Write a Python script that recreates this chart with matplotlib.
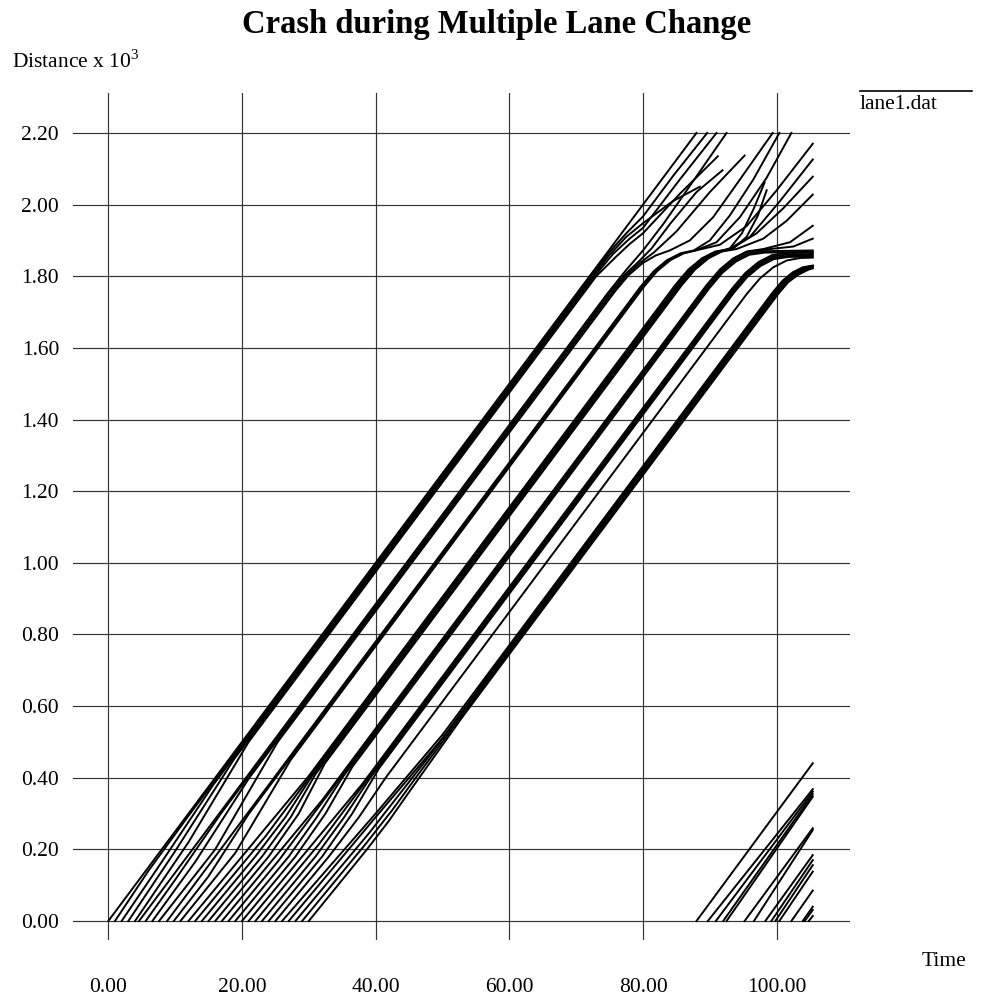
"""
Space-time diagram of vehicle trajectories in lane 1 (crash scenario).
"""

import matplotlib
matplotlib.use("Agg")
import matplotlib.pyplot as plt

plt.rcParams["font.family"] = ["Liberation Serif", "DejaVu Serif"]
plt.rcParams["mathtext.fontset"] = "custom"
plt.rcParams["mathtext.rm"] = "Liberation Serif"

TITLE = "Crash during Multiple Lane Change"
X_TICKS = [0, 20, 40, 60, 80, 100]
Y_TICKS = [0.0, 0.2, 0.4, 0.6, 0.8, 1.0, 1.2, 1.4, 1.6, 1.8, 2.0, 2.2]

# (time, distance/1000) waypoints per vehicle, grouped by platoon
platoon_1 = [
    [(0, 0), (88.0, 2.2)],
    [(1, 0), (6, 0.14), (12.25, 0.30), (72.25, 1.80), (75, 1.868), (77.5, 1.92), (80, 1.967), (84.5, 2.08), (89.6, 2.2)],
    [(2, 0), (8, 0.165), (15.7, 0.38), (72.5, 1.80), (75, 1.86), (77.5, 1.91), (80, 1.948), (84.5, 2.01), (88.5, 2.05)],
    [(3, 0), (10, 0.195), (18.75, 0.45), (72.75, 1.80), (75.5, 1.862), (78, 1.905), (80, 1.935), (85.5, 2.07), (91.0, 2.2)],
    [(4, 0), (12, 0.22), (21, 0.5), (73, 1.80), (76, 1.855), (78, 1.89), (80, 1.92), (85.5, 2.03), (91.2, 2.135)],
]
platoon_2 = [
    [(4.6, 0), (74.6, 1.75), (77.5, 1.818), (80, 1.872), (83, 1.945), (86, 2.025), (92.5, 2.2)],
    [(5.6, 0), (10, 0.115), (16.85, 0.3), (75.3, 1.76), (77.3, 1.805), (79.3, 1.84), (81.3, 1.878), (84, 1.945), (88, 2.035), (91.9, 2.096)],
    [(6.6, 0), (13, 0.165), (21.1, 0.4), (75.6, 1.76), (77.6, 1.805), (79.6, 1.838), (81.6, 1.866), (85, 1.925), (90, 2.035), (95.2, 2.137)],
    [(7.6, 0), (16, 0.2), (25.35, 0.5), (75.9, 1.76), (77.9, 1.804), (79.9, 1.836), (81.9, 1.858), (84, 1.872), (87, 1.9), (90.5, 1.965), (94.5, 2.07), (99.4, 2.2)],
]
platoon_3 = [
    [(8.8, 0), (79.6, 1.77), (81.6, 1.814), (83.6, 1.845), (85.6, 1.864), (87.6, 1.872), (90, 1.9), (93, 1.97), (96.5, 2.07), (100.4, 2.2)],
    [(9.8, 0), (15, 0.125), (21.05, 0.3), (79.85, 1.77), (81.85, 1.814), (83.85, 1.845), (85.85, 1.864), (87.85, 1.872), (91, 1.895), (94.5, 1.965), (98.5, 2.075), (102.2, 2.2)],
    [(10.8, 0), (19, 0.19), (27.3, 0.45), (80.1, 1.77), (82.1, 1.814), (84.1, 1.845), (86.1, 1.864), (88.1, 1.873), (91.5, 1.888), (95.5, 1.94), (100, 2.04), (105.4, 2.17)],
]
platoon_4 = [
    [(12, 0), (30, 0.405), (84.8, 1.775), (86.8, 1.819), (88.8, 1.85), (90.8, 1.869), (92.8, 1.875), (96, 1.91), (100.5, 2.01), (105.4, 2.126)],
    [(13, 0), (23.5, 0.236), (85.05, 1.775), (87.05, 1.819), (89.05, 1.85), (91.05, 1.869), (93.05, 1.875), (97, 1.92), (101, 1.99), (105.4, 2.078)],
    [(14, 0), (22, 0.18), (26.5, 0.29), (30.3, 0.4), (85.3, 1.775), (87.3, 1.819), (89.3, 1.85), (91.3, 1.869), (93, 1.878), (94.8, 1.92), (96.6, 1.99), (98.2, 2.062)],
    [(15, 0), (23, 0.18), (27.3, 0.29), (31, 0.41), (85.55, 1.775), (87.55, 1.819), (89.55, 1.85), (91.55, 1.869), (93.5, 1.877), (95.5, 1.91), (97.2, 1.97), (98.5, 2.04)],
    [(16, 0), (24, 0.18), (28.5, 0.3), (32.4, 0.44), (85.8, 1.775), (87.8, 1.819), (89.8, 1.85), (91.8, 1.869), (94, 1.876), (98, 1.905), (101.5, 1.955), (105.4, 2.028)],
]
platoon_5 = [
    [(17, 0), (32, 0.3375), (89.5, 1.775), (91.5, 1.819), (93.5, 1.85), (95.5, 1.869), (98, 1.876), (102, 1.895), (105.4, 1.941)],
    [(18, 0), (25.5, 0.169), (89.75, 1.775), (91.75, 1.819), (93.75, 1.85), (95.75, 1.869), (98.5, 1.875), (102.5, 1.883), (105.4, 1.905)],
    [(19, 0), (27, 0.18), (31.2, 0.29), (35, 0.4), (89.8, 1.77), (91.8, 1.814), (93.8, 1.845), (95.8, 1.864), (98, 1.87), (105.4, 1.872)],
    [(20, 0), (28, 0.18), (32.5, 0.3), (36.5, 0.43), (89.9, 1.766), (91.9, 1.81), (93.9, 1.841), (95.9, 1.86), (98.2, 1.866), (105.4, 1.868)],
]
platoon_6 = [
    [(21, 0), (38, 0.3825), (93.3, 1.765), (95.3, 1.809), (97.3, 1.84), (99.3, 1.859), (101.5, 1.865), (105.4, 1.866)],
    [(22, 0), (31.5, 0.214), (93.4, 1.761), (95.4, 1.805), (97.4, 1.836), (99.4, 1.855), (101.6, 1.861), (105.4, 1.862)],
    [(23, 0), (31, 0.18), (35.3, 0.29), (39.2, 0.4), (93.5, 1.757), (95.5, 1.801), (97.5, 1.832), (99.5, 1.851), (101.7, 1.857), (105.4, 1.858)],
    [(24, 0), (32, 0.18), (36.5, 0.3), (40.5, 0.426), (93.6, 1.754), (95.6, 1.798), (97.6, 1.829), (99.6, 1.848), (101.8, 1.854), (105.4, 1.855)],
]
platoon_7 = [
    [(25, 0), (33, 0.18), (37.5, 0.29), (41.5, 0.4), (95.5, 1.75), (97.5, 1.794), (99.5, 1.825), (101.5, 1.844), (103.5, 1.851), (105.4, 1.852)],
]
platoon_8 = [
    [(26, 0), (40, 0.3), (50, 0.52), (58, 0.72), (99.4, 1.755), (100.9, 1.788), (102.4, 1.811), (103.9, 1.825), (105.4, 1.83)],
    [(27, 0), (40, 0.29), (50, 0.51), (58, 0.714), (99.6, 1.754), (101.1, 1.787), (102.6, 1.81), (104.1, 1.824), (105.4, 1.829)],
    [(28, 0), (39, 0.245), (48, 0.46), (56, 0.658), (99.8, 1.753), (101.3, 1.786), (102.8, 1.809), (104.3, 1.822), (105.4, 1.827)],
    [(29, 0), (38.5, 0.215), (42.5, 0.31), (46, 0.4), (54, 0.601), (100.0, 1.751), (101.5, 1.784), (103, 1.806), (104.5, 1.82), (105.4, 1.825)],
    [(30, 0), (38.7, 0.2), (42, 0.28), (45, 0.36), (49, 0.465), (53, 0.57), (100.2, 1.75), (101.7, 1.783), (103.2, 1.804), (104.7, 1.818), (105.4, 1.822)],
]
# vehicles entering after the crash
second_wave = [
    [(88.0, 0), (105.4, 0.4405)],
    [(89.7, 0), (105.4, 0.368)],
    [(90.9, 0), (105.4, 0.361)],
    [(92.0, 0), (105.4, 0.354)],
    [(92.5, 0), (105.4, 0.347)],
    [(95.2, 0), (105.4, 0.259)],
    [(96.6, 0), (105.4, 0.254)],
    [(98.3, 0), (105.4, 0.184)],
    [(99.2, 0), (105.4, 0.17)],
    [(99.8, 0), (105.4, 0.156)],
    [(100.4, 0), (105.4, 0.138)],
    [(102.2, 0), (105.4, 0.085)],
    [(103.9, 0), (105.4, 0.04)],
    [(104.2, 0), (105.4, 0.031)],
    [(104.8, 0), (105.4, 0.014)],
]

W, H = 985, 1002
fig = plt.figure(figsize=(W / 100, H / 100), dpi=100)
ax = fig.add_axes([73 / W, 1 - 940 / H, 777 / W, 847 / H])
ax.set_xlim(-5.28, 110.97)
ax.set_ylim(-0.053, 2.3116)

for group in (platoon_1, platoon_2, platoon_3, platoon_4, platoon_5,
              platoon_6, platoon_7, platoon_8, second_wave):
    for path in group:
        ts = [p[0] for p in path]
        ds = [p[1] for p in path]
        ax.plot(ts, ds, color="black", lw=1.4, solid_joinstyle="round")

ax.set_xticks(X_TICKS)
ax.set_xticklabels([f"{x:.2f}" for x in X_TICKS])
ax.set_yticks(Y_TICKS)
ax.set_yticklabels([f"{y:.2f}" for y in Y_TICKS])
ax.tick_params(length=0, labelsize=15.5, pad=10)
ax.tick_params(axis="x", pad=27)
ax.grid(True, color="#333333", lw=0.85)
ax.set_axisbelow(True)
for s in ax.spines.values():
    s.set_visible(False)

fig.text(497 / W, 1 - 33 / H, TITLE, ha="center", va="baseline",
         fontsize=23.5, fontweight="bold")
fig.text(12 / W, 1 - 68 / H, r"Distance x 10$^{3}$", ha="left", va="baseline",
         fontsize=15.5)
fig.text(922 / W, 1 - 966 / H, "Time", ha="left", va="baseline", fontsize=15.5)

# legend entry
fig.add_artist(plt.Line2D([860 / W, 972 / W], [1 - 91 / H, 1 - 91 / H],
                          color="black", lw=1.2))
fig.text(860 / W, 1 - 109 / H, "lane1.dat", ha="left", va="baseline", fontsize=15.5)

fig.savefig("out.png", dpi=100)
